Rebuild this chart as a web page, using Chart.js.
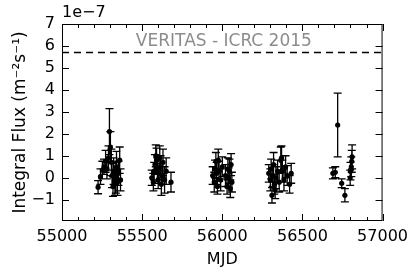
<!DOCTYPE html>
<html>
<head>
<meta charset="utf-8">
<script src="https://cdn.jsdelivr.net/npm/chart.js@4"></script>
<style>
  html, body { margin: 0; padding: 0; background: #fff; }
</style>
</head>
<body>
<canvas id="lc" width="414" height="273"></canvas>
<script>
// light curve values, flux in units of 1e-7 m^-2 s^-1
const mjd = [
  55225, 55240, 55252, 55262, 55272, 55280, 55290, 55296, 55302, 55308,
  55312, 55318, 55322, 55330, 55336, 55340, 55346, 55352, 55360, 55365,
  55560, 55570, 55575, 55580, 55585, 55590, 55595, 55600, 55605, 55610,
  55615, 55620, 55625, 55630, 55640, 55650, 55680,
  55940, 55950, 55955, 55960, 55965, 55970, 55975, 55980, 55990, 56000,
  56020, 56030, 56035, 56040, 56045, 56050, 56055, 56060,
  56290, 56300, 56305, 56310, 56315, 56320, 56325, 56330, 56335, 56345,
  56355, 56365, 56370, 56375, 56385, 56395, 56405, 56420, 56430,
  56690, 56705, 56720, 56745, 56765, 56800, 56805, 56808, 56810, 56798
];
const flux = [
  -0.43, 0.05, 0.35, 0.5, 0.75, 0.4, 0.9, 2.1, 1.4, 0.7,
  0.1, -0.4, 0.3, -0.25, 0.0, 0.5, -0.2, 0.2, 0.8, -0.1,
  0.0, -0.2, 0.3, 0.6, 1.0, 0.8, 0.4, -0.1, 0.2, 0.9,
  0.5, -0.3, 0.1, 0.7, -0.1, 0.3, -0.2,
  0.1, -0.2, 0.4, 0.75, 0.2, -0.4, 0.8, 0.3, -0.1, 0.5,
  0.1, -0.4, 0.4, 0.0, 0.3, -0.5, 0.6, -0.2,
  0.2, -0.1, 0.4, -0.8, 0.1, 0.6, -0.3, -0.55, 0.0, 0.3,
  -0.2, 0.8, 0.9, 0.3, -0.1, 0.5, 0.1, -0.3, 0.2,
  0.2, 0.25, 2.4, -0.25, -0.8, 0.3, 0.5, 0.75, 0.95, 0.0
];
const fluxErr = [
  0.3, 0.35, 0.4, 0.35, 0.5, 0.45, 0.55, 1.05, 0.7, 0.6,
  0.55, 0.45, 0.6, 0.55, 0.7, 0.7, 0.6, 0.55, 0.6, 0.5,
  0.35, 0.4, 0.4, 0.45, 0.5, 0.55, 0.5, 0.4, 0.45, 0.55,
  0.5, 0.5, 0.4, 0.6, 0.6, 0.6, 0.45,
  0.4, 0.45, 0.4, 0.4, 0.5, 0.35, 0.5, 0.45, 0.5, 0.45,
  0.5, 0.35, 0.5, 0.45, 0.55, 0.4, 0.5, 0.45,
  0.4, 0.5, 0.45, 0.35, 0.5, 0.55, 0.45, 0.4, 0.5, 0.5,
  0.45, 0.6, 0.55, 0.5, 0.5, 0.5, 0.45, 0.4, 0.45,
  0.25, 0.25, 1.45, 0.2, 0.3, 0.4, 0.45, 0.5, 0.55, 0.35
];
const refLevel = 5.7;           // VERITAS ICRC 2015 level
const xTicks = [55000, 55500, 56000, 56500, 57000];
const yTicks = [-1, 0, 1, 2, 3, 4, 5, 6, 7];

const FONT = 'DejaVu Sans';

// error bars drawn through the scales
const errorBars = {
  id: 'errorBars',
  afterDatasetsDraw(chart) {
    const { ctx, scales: { x, y } } = chart;
    ctx.save();
    ctx.strokeStyle = '#000';
    ctx.lineWidth = 1.3;
    ctx.beginPath();
    mjd.forEach((m, i) => {
      const px = x.getPixelForValue(m);
      const top = y.getPixelForValue(flux[i] + fluxErr[i]);
      const bot = y.getPixelForValue(flux[i] - fluxErr[i]);
      ctx.moveTo(px, top); ctx.lineTo(px, bot);
      ctx.moveTo(px - 4, top); ctx.lineTo(px + 4, top);
      ctx.moveTo(px - 4, bot); ctx.lineTo(px + 4, bot);
    });
    ctx.stroke();
    ctx.restore();
  }
};

// matplotlib-like frame with inward ticks, plus annotations
const frame = {
  id: 'frame',
  afterDraw(chart) {
    const { ctx, chartArea: a, scales: { x, y } } = chart;
    ctx.save();
    ctx.strokeStyle = '#000';
    ctx.lineWidth = 1;
    ctx.strokeRect(a.left + 0.5, a.top + 0.5, a.right - a.left - 1, a.bottom - a.top - 1);
    ctx.beginPath();
    const step = (xTicks[1] - xTicks[0]) / 5;
    for (let v = xTicks[0]; v <= xTicks[xTicks.length - 1]; v += step) {
      const px = Math.round(x.getPixelForValue(v)) + 0.5;
      const len = xTicks.includes(v) ? 7 : 4;
      ctx.moveTo(px, a.bottom); ctx.lineTo(px, a.bottom - len);
      ctx.moveTo(px, a.top); ctx.lineTo(px, a.top + len);
    }
    yTicks.forEach(v => {
      const py = Math.round(y.getPixelForValue(v)) + 0.5;
      ctx.moveTo(a.left, py); ctx.lineTo(a.left + 7, py);
      ctx.moveTo(a.right, py); ctx.lineTo(a.right - 7, py);
    });
    ctx.stroke();

    ctx.fillStyle = '#000';
    ctx.font = '16px "' + FONT + '"';
    ctx.textAlign = 'left';
    ctx.textBaseline = 'bottom';
    ctx.fillText('1e\u22127', a.left, a.top - 3);

    ctx.fillStyle = '#8c8c8c';
    ctx.font = '17px "' + FONT + '"';
    ctx.textAlign = 'center';
    ctx.textBaseline = 'middle';
    ctx.fillText('VERITAS - ICRC 2015', x.getPixelForValue(56010), y.getPixelForValue(6.2));
    ctx.restore();
  }
};

new Chart(document.getElementById('lc'), {
  type: 'scatter',
  data: {
    datasets: [
      {
        data: mjd.map((m, i) => ({ x: m, y: flux[i] })),
        pointRadius: 2.6,
        pointHoverRadius: 2.6,
        backgroundColor: '#000',
        borderColor: '#000',
        borderWidth: 0
      },
      {
        type: 'line',
        data: [{ x: xTicks[0], y: refLevel }, { x: xTicks[xTicks.length - 1], y: refLevel }],
        borderColor: '#000',
        borderWidth: 1.4,
        borderDash: [7, 5],
        pointRadius: 0,
        fill: false
      }
    ]
  },
  options: {
    responsive: false,
    animation: false,
    devicePixelRatio: 1,
    layout: { padding: { top: 24, right: 31, left: 0, bottom: 0 } },
    plugins: { legend: { display: false }, tooltip: { enabled: false } },
    scales: {
      x: {
        type: 'linear',
        min: 55000,
        max: 57000,
        afterFit: s => { s.height = 52; },
        afterBuildTicks: s => { s.ticks = xTicks.map(v => ({ value: v })); },
        grid: { display: false, drawTicks: false },
        border: { display: false },
        ticks: {
          color: '#000',
          font: { family: FONT, size: 16 },
          padding: 6,
          maxRotation: 0,
          autoSkip: false,
          callback: v => String(v)
        },
        title: {
          display: true,
          text: 'MJD',
          color: '#000',
          font: { family: FONT, size: 16 },
          padding: { top: 0, bottom: 4 }
        }
      },
      y: {
        type: 'linear',
        min: -1.97,
        max: 7,
        afterFit: s => { s.width = 62; },
        afterBuildTicks: s => { s.ticks = yTicks.map(v => ({ value: v })); },
        grid: { display: false, drawTicks: false },
        border: { display: false },
        ticks: {
          color: '#000',
          font: { family: FONT, size: 16 },
          padding: 7,
          callback: v => v < 0 ? '\u2212' + (-v) : String(v)
        },
        title: {
          display: true,
          text: 'Integral Flux (m\u207B\u00B2s\u207B\u00B9)',
          color: '#000',
          font: { family: FONT, size: 17 },
          padding: { top: 10, bottom: 0 }
        }
      }
    }
  },
  plugins: [errorBars, frame]
});
</script>
</body>
</html>
